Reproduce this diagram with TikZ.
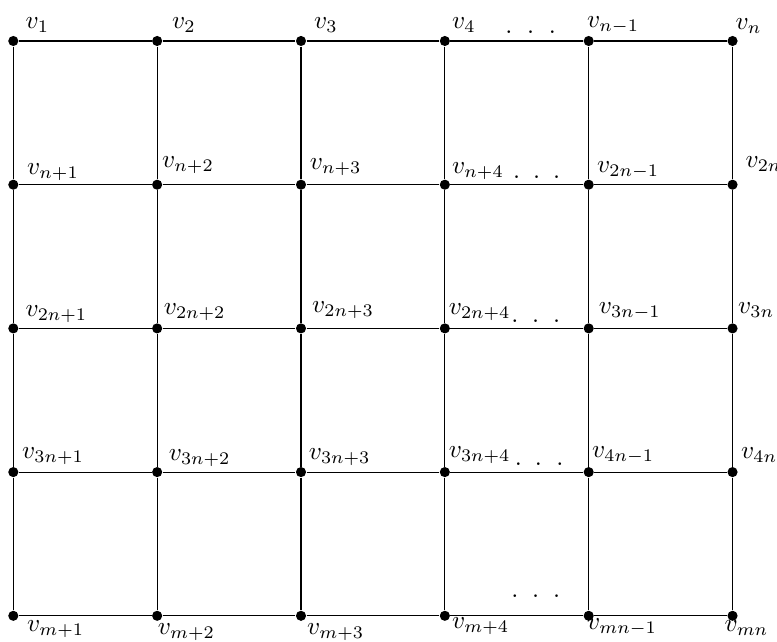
\documentclass[tikz,border=0pt]{standalone}
\begin{document}
\begin{tikzpicture}[x=0.3953pt,y=-0.3953pt,
  vtx/.style={circle,fill=black,inner sep=0pt,minimum size=4pt},
  lbl/.style={anchor=base west,inner sep=0pt},
  ell/.style={inner sep=0pt,anchor=center},
  edge/.style={line width=0.45pt}]
\useasboundingbox (0,0) rectangle (777,642);
% vertices
\foreach \r/\y in {1/41,2/184.7,3/328.4,4/472.1,5/615.8}{
  \foreach \c/\x in {1/13.3,2/157.15,3/301,4/444.85,5/588.7,6/732.55}{
    \node[vtx] (v\r\c) at (\x,\y) {};
  }
}
% edges
\foreach \r in {1,...,5}{
  \foreach \c [evaluate=\c as \d using int(\c+1)] in {1,...,5}{
    \draw[edge] (v\r\c) -- (v\r\d);
  }
}
\foreach \c in {1,...,6}{
  \foreach \r [evaluate=\r as \s using int(\r+1)] in {1,...,4}{
    \draw[edge] (v\r\c) -- (v\s\c);
  }
}
% labels row 1
\node[lbl] (l11) at (25,28.5) {$v_1$};
\node[lbl] (l12) at (171.7,28.5) {$v_2$};
\node[lbl] (l13) at (313.5,28.5) {$v_3$};
\node[lbl] (l14) at (451.7,28.5) {$v_4$};
\node[lbl] (l15) at (586.7,27.5) {$v_{n-1}$};
\node[lbl] (l16) at (735,29.5) {$v_n$};
% labels row 2
\node[lbl] (l21) at (26.7,175) {$v_{n+1}$};
\node[lbl] (l22) at (161.7,168) {$v_{n+2}$};
\node[lbl] (l23) at (309.3,169.5) {$v_{n+3}$};
\node[lbl] (l24) at (451.7,174) {$v_{n+4}$};
\node[lbl] (l25) at (596.7,172.7) {$v_{2n-1}$};
\node[lbl] (l26) at (745,168) {$v_{2n}$};
% labels row 3
\node[lbl] (l31) at (25,316.7) {$v_{2n+1}$};
\node[lbl] (l32) at (163.3,315) {$v_{2n+2}$};
\node[lbl] (l33) at (311.7,312.7) {$v_{2n+3}$};
\node[lbl] (l34) at (448.3,315) {$v_{2n+4}$};
\node[lbl] (l35) at (598.3,313.3) {$v_{3n-1}$};
\node[lbl] (l36) at (737.7,313.3) {$v_{3n}$};
% labels row 4
\node[lbl] (l41) at (21.7,458.3) {$v_{3n+1}$};
\node[lbl] (l42) at (168.3,460.7) {$v_{3n+2}$};
\node[lbl] (l43) at (308.3,460) {$v_{3n+3}$};
\node[lbl] (l44) at (448.3,457.3) {$v_{3n+4}$};
\node[lbl] (l45) at (591.7,457.3) {$v_{4n-1}$};
\node[lbl] (l46) at (740.7,458.3) {$v_{4n}$};
% labels row 5
\node[lbl] (l51) at (26.7,631.7) {$v_{m+1}$};
\node[lbl] (l52) at (157.3,635) {$v_{m+2}$};
\node[lbl] (l53) at (306.7,634.5) {$v_{m+3}$};
\node[lbl] (l54) at (451.7,628.3) {$v_{m+4}$};
\node[lbl] (l55) at (586.7,629.3) {$v_{mn-1}$};
\node[lbl] (l56) at (724,631.7) {$v_{mn}$};
% ellipses
\foreach \i/\xa/\xb/\xc/\y in {1/509/530.7/552.3/32.3, 2/516.7/536.7/556.7/176.7, 3/515/535.7/556.7/321, 4/518.3/538.3/560/464, 5/515/535.7/556.7/596}{
  \node[ell] (d\i a) at (\xa,\y) {.};
  \node[ell] (d\i b) at (\xb,\y) {.};
  \node[ell] (d\i c) at (\xc,\y) {.};
}
\end{tikzpicture}
\end{document}
